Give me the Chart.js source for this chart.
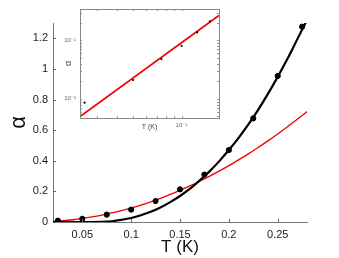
<!DOCTYPE html>
<html><head><meta charset="utf-8">
<script src="https://cdn.jsdelivr.net/npm/chart.js@4"></script>
<style>
html,body{margin:0;padding:0;background:#fff;}
#wrap{position:relative;width:339px;height:258px;overflow:hidden;}
#main{position:absolute;left:0;top:0;}
#inset{position:absolute;left:60px;top:0;}
</style></head><body>
<div id="wrap"><canvas id="main" width="339" height="258"></canvas><canvas id="inset" width="165" height="135"></canvas></div>
<script>
// ---- data ----
const temps = [0.025, 0.05, 0.075, 0.1, 0.125, 0.15, 0.175, 0.2, 0.225, 0.25, 0.275];
const alphaMeasured = [0.0086, 0.021, 0.048, 0.081, 0.137, 0.213, 0.31, 0.47, 0.677, 0.954, 1.276];
const curveT = [0.02,0.03,0.04,0.05,0.06,0.07,0.08,0.09,0.10,0.11,0.12,0.13,0.14,0.15,0.16,0.17,0.18,0.19,0.20,0.21,0.22,0.23,0.24,0.25,0.26,0.27,0.28];
const fitBlack = [0,0,0,0,0,0.001,0.005,0.014,0.026,0.044,0.067,0.095,0.130,0.170,0.216,0.270,0.329,0.396,0.470,0.550,0.638,0.733,0.837,0.948,1.066,1.193,1.320];
const fitRed = [0.0037,0.0083,0.0147,0.023,0.0331,0.0451,0.0589,0.0745,0.092,0.111,0.132,0.155,0.180,0.207,0.236,0.266,0.298,0.332,0.368,0.406,0.445,0.487,0.530,0.575,0.622,0.671,0.721];
const xTicks = [0.05, 0.1, 0.15, 0.2, 0.25];
const xTickLabels = ['0.05', '0.1', '0.15', '0.2', '0.25'];
const yTicks = [0, 0.2, 0.4, 0.6, 0.8, 1, 1.2];
const yTickLabels = ['0', '0.2', '0.4', '0.6', '0.8', '1', '1.2'];
// inset (log-log)
const insetLineT = [0.0234, 0.171];
const insetLineA = [0.00497, 0.267];
const insetXTicks = [0.1];
const insetXTickLabels = ['10\u207B\u00B9'];
const insetYTicks = [0.01, 0.1];
const insetYTickLabels = ['10\u207B\u00B2', '10\u207B\u00B9'];
const insetXMinor = [0.03,0.04,0.05,0.06,0.07,0.08,0.09,0.1];
const insetYMinor = [0.005,0.006,0.007,0.008,0.009,0.01,0.02,0.03,0.04,0.05,0.06,0.07,0.08,0.09,0.1,0.2,0.3];

Chart.defaults.font.family = "'Liberation Sans', Arial, 'DejaVu Sans', sans-serif";
Chart.defaults.animation = false;

const pts = (xs, ys) => xs.map((x, i) => ({x, y: ys[i]}));

const inwardTicks = {
  id: 'inwardTicks',
  afterDraw(chart, args, o) {
    const {ctx, chartArea: a, scales: {x, y}} = chart;
    ctx.save();
    ctx.strokeStyle = o.color; ctx.lineWidth = 1;
    o.xs.forEach(v => {
      const p = Math.round(x.getPixelForValue(v)) + 0.5;
      ctx.beginPath(); ctx.moveTo(p, a.bottom); ctx.lineTo(p, a.bottom - o.len); ctx.stroke();
      if (o.box) { ctx.beginPath(); ctx.moveTo(p, a.top); ctx.lineTo(p, a.top + o.len); ctx.stroke(); }
    });
    o.ys.forEach(v => {
      const p = Math.round(y.getPixelForValue(v)) + 0.5;
      ctx.beginPath(); ctx.moveTo(a.left, p); ctx.lineTo(a.left + o.len, p); ctx.stroke();
      if (o.box) { ctx.beginPath(); ctx.moveTo(a.right, p); ctx.lineTo(a.right - o.len, p); ctx.stroke(); }
    });
    if (o.box) {
      ctx.strokeStyle = o.boxColor;
      ctx.strokeRect(Math.round(a.left) + 0.5, Math.round(a.top) + 0.5, Math.round(a.right - a.left), Math.round(a.bottom - a.top));
    }
    ctx.restore();
  },
  beforeDraw(chart, args, o) {
    if (!o.box) return;
    const {ctx, chartArea: a} = chart;
    ctx.save(); ctx.fillStyle = '#fff';
    ctx.fillRect(a.left, a.top, a.right - a.left, a.bottom - a.top);
    ctx.restore();
  }
};

new Chart(document.getElementById('main'), {
  type: 'scatter',
  data: {
    datasets: [
      {data: pts(curveT, fitRed), showLine: true, borderColor: '#f00000', borderWidth: 1.3, pointRadius: 0, cubicInterpolationMode: 'monotone', order: 3},
      {data: pts(curveT, fitBlack), showLine: true, borderColor: '#000', borderWidth: 2.2, pointRadius: 0, cubicInterpolationMode: 'monotone', order: 2},
      {data: pts(temps, alphaMeasured), showLine: false, backgroundColor: '#000', borderColor: '#000', pointRadius: 2.6, order: 1}
    ]
  },
  options: {
    responsive: false,
    layout: {padding: {left: 0, top: 23, right: 32, bottom: 0}},
    plugins: {legend: {display: false}, tooltip: {enabled: false},
      inwardTicks: {color: '#666', len: 3, xs: xTicks, ys: yTicks, box: false}},
    scales: {
      x: {type: 'linear', min: 0.02, max: 0.28,
        afterBuildTicks: s => { s.ticks = xTicks.map(v => ({value: v})); },
        afterFit: s => { s.height = 36; },
        grid: {display: false, drawTicks: false},
        border: {display: true, color: '#777', width: 1},
        ticks: {padding: 6, color: '#222', font: {size: 11}, maxRotation: 0,
          callback: (v) => xTickLabels[xTicks.indexOf(v)]},
        title: {display: true, text: 'T (K)', color: '#111', font: {size: 17}, padding: {top: 0, bottom: 0}}
      },
      y: {type: 'linear', min: 0, max: 1.3,
        afterBuildTicks: s => { s.ticks = yTicks.map(v => ({value: v})); },
        afterFit: s => { s.width = 53; },
        grid: {display: false, drawTicks: false},
        border: {display: true, color: '#777', width: 1},
        ticks: {padding: 5, color: '#222', font: {size: 11},
          callback: (v) => yTickLabels[yTicks.indexOf(v)]},
        title: {display: true, text: '\u03B1', color: '#111', font: {size: 22}, padding: {top: 6, bottom: 0}}
      }
    }
  },
  plugins: [inwardTicks]
});

new Chart(document.getElementById('inset'), {
  type: 'scatter',
  data: {
    datasets: [
      {data: pts(insetLineT, insetLineA), showLine: true, borderColor: '#f00000', borderWidth: 1.8, pointRadius: 0, order: 2},
      {data: pts(temps, alphaMeasured).filter(p => p.x < 0.171), showLine: false, backgroundColor: '#000', borderColor: '#000', pointRadius: 1.1, borderWidth: 0, order: 1}
    ]
  },
  options: {
    responsive: false,
    layout: {padding: {left: 0, top: 9, right: 6, bottom: 0}},
    plugins: {legend: {display: false}, tooltip: {enabled: false},
      inwardTicks: {color: '#999', len: 2, xs: insetXMinor, ys: insetYMinor, box: true, boxColor: '#888'}},
    scales: {
      x: {type: 'logarithmic', min: 0.0234, max: 0.171,
        afterBuildTicks: s => { s.ticks = insetXTicks.map(v => ({value: v})); },
        afterFit: s => { s.height = 17; },
        grid: {display: false, drawTicks: false},
        border: {display: false},
        ticks: {padding: 4, color: '#666', font: {size: 6}, maxRotation: 0, autoSkip: false,
          callback: (v) => insetXTickLabels[insetXTicks.indexOf(v)]},
        title: {display: true, text: 'T (K)', color: '#444', font: {size: 7}, padding: {top: 0, bottom: 4}}
      },
      y: {type: 'logarithmic', min: 0.0047, max: 0.345,
        afterBuildTicks: s => { s.ticks = insetYTicks.map(v => ({value: v})); },
        afterFit: s => { s.width = 20; },
        grid: {display: false, drawTicks: false},
        border: {display: false},
        ticks: {padding: 4, color: '#666', font: {size: 6}, autoSkip: false,
          callback: (v) => insetYTickLabels[insetYTicks.indexOf(v)]},
        title: {display: true, text: '\u03B1', color: '#444', font: {size: 9}, padding: {top: 3, bottom: 0}}
      }
    }
  },
  plugins: [inwardTicks]
});
</script>
</body></html>
